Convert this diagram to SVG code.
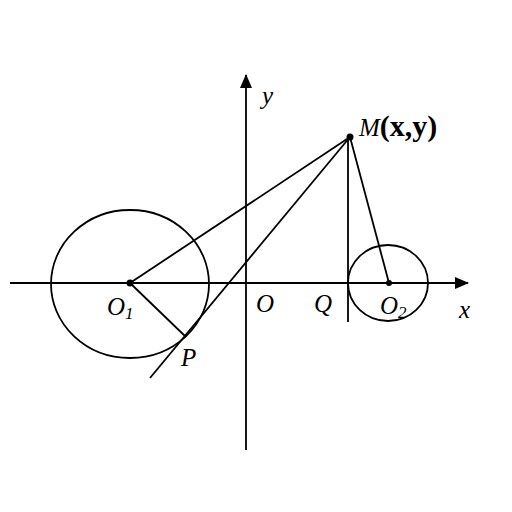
<svg xmlns="http://www.w3.org/2000/svg" width="512" height="512" viewBox="0 0 512 512">
<style>
.l{stroke:#000;stroke-width:1.8;fill:none}
.t{font-family:"Liberation Serif",serif;font-style:italic;font-size:25px;fill:#000}
.s{font-size:17px}
</style>
<defs>
<marker id="ar" viewBox="0 0 14 12" refX="13" refY="6" markerWidth="14" markerHeight="12" markerUnits="userSpaceOnUse" orient="auto">
<path d="M0,0 L14,6 L0,12 z" fill="#000"/>
</marker>
</defs>
<rect width="512" height="512" fill="#fff"/>
<g id="connectors">
<line class="l" x1="10" y1="283" x2="468" y2="283" marker-end="url(#ar)"/>
<line class="l" x1="246" y1="450" x2="246" y2="75" marker-end="url(#ar)"/>
<line class="l" x1="350" y1="137" x2="130" y2="283"/>
<line class="l" x1="350" y1="137" x2="150" y2="378"/>
<line class="l" x1="130" y1="283" x2="186" y2="337"/>
<line class="l" x1="348" y1="137" x2="348" y2="322"/>
<line class="l" x1="350" y1="137" x2="389" y2="283"/>
</g>
<g id="circle1"><ellipse class="l" cx="130" cy="284" rx="79" ry="74"/><circle cx="130" cy="283" r="3.5"/></g>
<g id="circle2"><ellipse class="l" cx="388" cy="283" rx="40" ry="38"/><circle cx="389" cy="283" r="3"/></g>
<g id="M"><circle cx="350" cy="137" r="3.5"/><text class="t" x="359" y="136" font-size="28">M<tspan style="font-style:normal;font-weight:600" font-size="30">(x,y)</tspan></text></g>
<g id="labels">
<text class="t" x="107" y="315">O<tspan class="s" dy="4">1</tspan></text>
<text class="t" x="256" y="312">O</text>
<text class="t" x="314" y="312">Q</text>
<text class="t" x="380" y="314">O<tspan class="s" dy="4">2</tspan></text>
<text class="t" x="459" y="318">x</text>
<text class="t" x="262" y="104">y</text>
<text class="t" x="181" y="366">P</text>
</g>
</svg>
